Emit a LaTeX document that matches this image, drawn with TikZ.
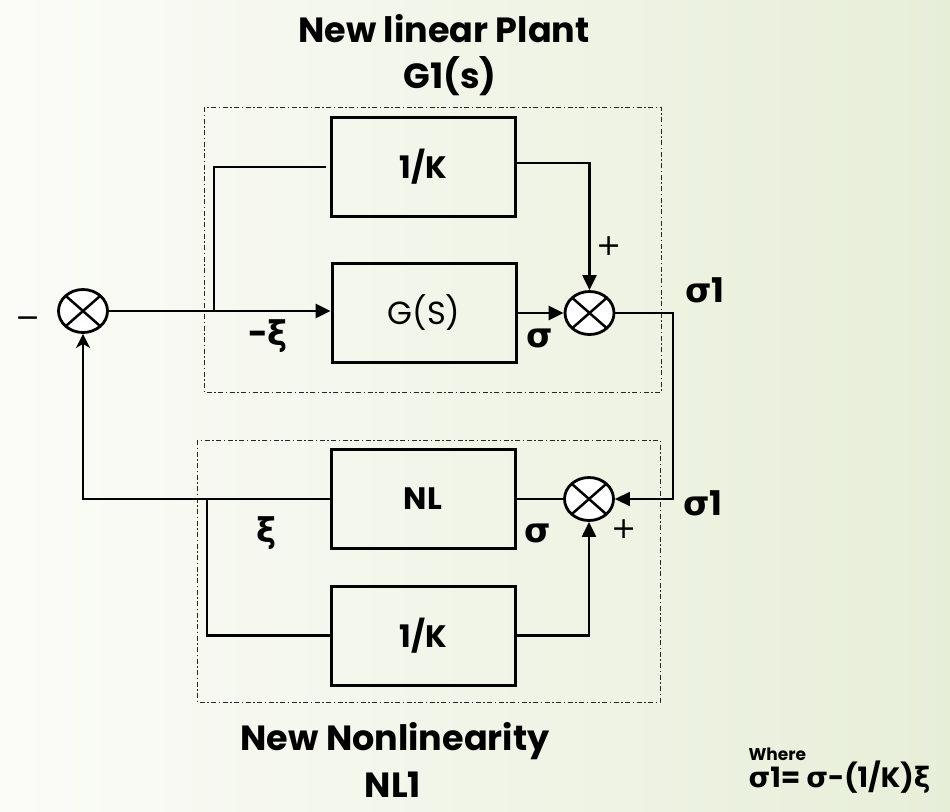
\documentclass[tikz,border=0pt]{standalone}
\usepackage{fontspec}
\setmainfont{Poppins}
\newfontfamily\grk{DejaVu Sans}
\usetikzlibrary{arrows.meta,shapes.geometric,calc}
\definecolor{bgl}{RGB}{251,252,248}
\definecolor{bgr}{RGB}{231,238,216}

\begin{document}
\begin{tikzpicture}[x=1pt,y=-1pt,
  blk/.style={draw,line width=3pt,minimum width=184pt,minimum height=99pt,inner sep=0pt,font=\fontsize{31}{34}\selectfont\bfseries},
  summ/.style={draw,ellipse,fill=white,line width=2.8pt,minimum width=49pt,minimum height=43pt,inner sep=0pt,
    path picture={\draw[line width=2.5pt](path picture bounding box.north west)--(path picture bounding box.south east)
      (path picture bounding box.north east)--(path picture bounding box.south west);}},
  frame/.style={draw=black!85,line width=1pt,dash pattern=on 5pt off 2.5pt on 1.5pt off 2.5pt},
  wire/.style={line width=2.2pt},
  thin wire/.style={line width=1.6pt},
  bus/.style={line width=2.8pt},
  arr/.style={-{Triangle[length=15pt,width=14pt]}},
  arrs/.style={-{Stealth[length=14pt,width=14pt,inset=4pt]}},
  lbl/.style={font=\fontsize{34}{36}\selectfont\bfseries},
  sgn/.style={font=\fontsize{30}{32}\selectfont\grk},
  ttl/.style={font=\fontsize{35}{40}\selectfont\bfseries}]
  \shade[left color=bgl,right color=bgr](0,0)rectangle(950,811);
  \useasboundingbox(0,0)rectangle(950,811);
  \draw[frame](204,107)rectangle(661,392);
  \draw[frame](197,440)rectangle(660,702);
  \node[blk](k1) at(423,167){1/K};
  \node[blk,font=\fontsize{32}{34}\selectfont](gs) at(424,313){G(S)};
  \node[blk](nl) at(423,499){NL};
  \node[blk](k2) at(423,635.5){1/K};
  \node[summ](sl) at(83,311){};
  \node[summ](su) at(589.5,313){};
  \node[summ](sd) at(589,499){};
  \coordinate(b1) at(214,311);
  \coordinate(b2) at(207,499);
  \coordinate(o2) at(673,499);
  \draw[bus,arr](sl)--(sl-|gs.west);
  \draw[thin wire,shorten >=4pt](b1)|-(k1.west);
  \draw[wire,arr]([yshift=4pt]k1.east)-|(su);
  \draw[bus,arr](gs.east)--(su);
  \draw[thin wire,arr](su)-|(o2)--(sd);
  \draw[bus,arrs](nl.west)-|(sl);
  \draw[wire](b2)|-(k2.west);
  \draw[wire](nl.east)--(sd);
  \draw[wire,arr](k2.east)-|(sd);
  \node[ttl,anchor=base](t1) at(444,42){New linear Plant};
  \node[ttl,anchor=base](t2) at(450,88){G1(s)};
  \node[ttl,anchor=base](t3) at(395,750){New Nonlinearity};
  \node[ttl,anchor=base](t4) at(393,797){NL1};
  \node[lbl,anchor=base](s1u) at(705,302){{\grk σ}1};
  \node[lbl,anchor=base](s1d) at(703,515){{\grk σ}1};
  \node[lbl](xu) at(268,336){-{\grk ξ}};
  \node[lbl](su1) at(540,338){{\grk σ}};
  \node[lbl](xd) at(267,533){{\grk ξ}};
  \node[lbl](sd1) at(538,533){{\grk σ}};
  \node[sgn](pu) at(609,246){+};
  \node[sgn](pd) at(624,529){+};
  \node[sgn](mi) at(28,322){−};
  \node[font=\fontsize{17}{20}\selectfont\bfseries,anchor=base west](wh) at(745,760){Where};
  \node[font=\fontsize{28}{30}\selectfont\bfseries,anchor=base west](eq) at(745,787){{\grk σ}1= {\grk σ}-(1/K){\grk ξ}};
\end{tikzpicture}
\end{document}
